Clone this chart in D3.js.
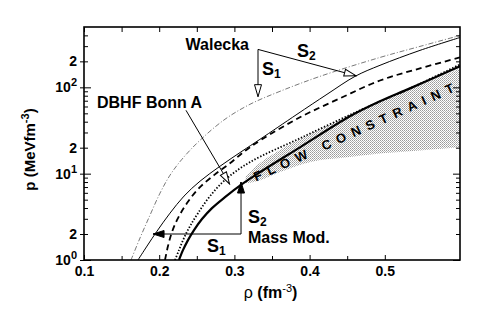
<!DOCTYPE html>
<html>
<head>
<meta charset="utf-8">
<script src="https://cdn.jsdelivr.net/npm/d3@7"></script>
<style>
  body { margin: 0; background: #fff; }
  text { font-family: "Liberation Sans", Arial, Helvetica, sans-serif; }
</style>
</head>
<body>
<div id="chart"></div>
<script>
// density rho (fm^-3) and pressure p (MeV fm^-3)
var rhoWaleckaS1 = [0.1625, 0.1745, 0.1878, 0.2011, 0.2144, 0.2303, 0.2543, 0.2875, 0.3207, 0.3606, 0.4138, 0.4936, 0.5468, 0.6];
var pWaleckaS1   = [1.0, 1.8, 3.31, 5.95, 9.61, 14.7, 24.4, 42.7, 63.6, 89.9, 134, 222, 298, 399];

var rhoWaleckaS2 = [0.1718, 0.1838, 0.1971, 0.2144, 0.233, 0.2543, 0.2809, 0.3101, 0.334, 0.3832, 0.4231, 0.4604, 0.4936, 0.5468, 0.6];
var pWaleckaS2   = [1.0, 1.45, 2.16, 3.49, 5.5, 8.19, 12.2, 18.2, 25.0, 48.7, 83.0, 134, 180, 268, 378];

var rhoBonnA = [0.2077, 0.2117, 0.217, 0.225, 0.237, 0.2529, 0.2729, 0.2941, 0.3154, 0.3367, 0.3872, 0.4404, 0.4936, 0.5468, 0.6];
var pBonnA   = [1.0, 1.45, 2.11, 3.06, 4.56, 6.8, 9.61, 13.2, 18.7, 25.0, 45.0, 74.6, 120, 166, 222];

var rhoMassS1 = [0.221, 0.2263, 0.233, 0.241, 0.2516, 0.2676, 0.2888, 0.3207, 0.3872, 0.467, 0.5335, 0.6];
var pMassS1   = [1.0, 1.3, 1.8, 2.47, 3.49, 5.5, 8.64, 13.6, 25.7, 54.2, 97.3, 184];

var rhoMassS2 = [0.2263, 0.2316, 0.2383, 0.2463, 0.2569, 0.2702, 0.2875, 0.3101, 0.334, 0.3872, 0.4537, 0.4936, 0.5335, 0.6];
var pMassS2   = [1.0, 1.3, 1.7, 2.22, 2.98, 3.99, 5.35, 7.56, 10.4, 20.2, 46.2, 68.9, 97.3, 175];

var rhoFlow   = [0.315, 0.33, 0.36, 0.4, 0.45, 0.5, 0.55, 0.6];
var pFlowHigh = [9.35, 12.5, 18.7, 28.6, 46.2, 72.7, 108, 166];
var pFlowLow  = [7.77, 8.19, 10.4, 13.6, 15.5, 17.3, 18.7, 20.2];

var xMajor = [0.1, 0.2, 0.3, 0.4, 0.5];
var xMinor = [0.15, 0.25, 0.35, 0.45];
var yLabelled = [1, 2, 10, 20, 100, 200];
var yDecades = [1, 10, 100];
var yMinor = [2, 3, 4, 5, 6, 7, 8, 9, 20, 30, 40, 50, 60, 70, 80, 90, 200, 300, 400];

var w = 496, h = 327;
var plotL = 84, plotR = 460, plotT = 27, plotB = 260;

var svg = d3.select("#chart").append("svg")
  .attr("width", w)
  .attr("height", h);

var x = d3.scaleLinear().domain([0.1, 0.6]).range([plotL, plotR]);
var y = d3.scaleLog().domain([1, 500]).range([plotB, plotT]);

var defs = svg.append("defs");

// stipple for the flow band
var pat = defs.append("pattern")
  .attr("id", "stipple")
  .attr("width", 2).attr("height", 2)
  .attr("patternUnits", "userSpaceOnUse");
pat.append("rect").attr("x", 0).attr("y", 0).attr("width", 1).attr("height", 1).attr("fill", "#9a9a9a");
pat.append("rect").attr("x", 1).attr("y", 1).attr("width", 1).attr("height", 1).attr("fill", "#b4b4b4");

var addMarker = function(id, fill, len, wid) {
  defs.append("marker")
    .attr("id", id)
    .attr("viewBox", (-len - 1) + " " + (-wid / 2 - 1) + " " + (len + 2) + " " + (wid + 2))
    .attr("refX", 0).attr("refY", 0)
    .attr("markerWidth", len + 2).attr("markerHeight", wid + 2)
    .attr("markerUnits", "userSpaceOnUse")
    .attr("orient", "auto")
    .append("path")
    .attr("d", "M0,0L" + (-len) + "," + (-wid / 2) + "L" + (-len) + "," + (wid / 2) + "Z")
    .attr("fill", fill)
    .attr("stroke", "#000")
    .attr("stroke-width", 1);
};
addMarker("hollow", "#fff", 12, 7);
addMarker("filled", "#000", 11, 7);

svg.append("clipPath").attr("id", "plotclip")
  .append("rect")
  .attr("x", plotL).attr("y", plotT)
  .attr("width", plotR - plotL).attr("height", plotB - plotT);

var plot = svg.append("g").attr("clip-path", "url(#plotclip)");

// flow constraint band
var band = d3.area()
  .x(function(d) { return x(d[0]); })
  .y0(function(d) { return y(d[2]); })
  .y1(function(d) { return y(d[1]); })
  .curve(d3.curveMonotoneX);

plot.append("path")
  .datum(rhoFlow.map(function(r, i) { return [r, pFlowHigh[i], pFlowLow[i]]; }))
  .attr("d", band)
  .attr("fill", "url(#stipple)");

var line = d3.line()
  .x(function(d) { return x(d[0]); })
  .y(function(d) { return y(d[1]); })
  .curve(d3.curveCatmullRom.alpha(0.5));

var zip = function(a, b) { return a.map(function(v, i) { return [v, b[i]]; }); };

var series = [
  { rho: rhoWaleckaS1, p: pWaleckaS1, stroke: "#555", width: 0.8, dash: "5,2,1,2" },
  { rho: rhoWaleckaS2, p: pWaleckaS2, stroke: "#000", width: 1, dash: null },
  { rho: rhoBonnA, p: pBonnA, stroke: "#000", width: 1.8, dash: "6,4" },
  { rho: rhoMassS1, p: pMassS1, stroke: "#000", width: 1.8, dash: "1.4,1.8" },
  { rho: rhoMassS2, p: pMassS2, stroke: "#000", width: 2.2, dash: null }
];

plot.selectAll("path.curve")
  .data(series)
  .enter()
  .append("path")
  .attr("class", "curve")
  .attr("d", function(d) { return line(zip(d.rho, d.p)); })
  .attr("fill", "none")
  .attr("stroke", function(d) { return d.stroke; })
  .attr("stroke-width", function(d) { return d.width; })
  .attr("stroke-dasharray", function(d) { return d.dash; });

// flow constraint label along the band
var f0 = [x(0.3287), y(8.1)], f1 = [x(0.5934), y(90)];
var ang = Math.atan2(f1[1] - f0[1], f1[0] - f0[0]) * 180 / Math.PI;
var flen = Math.hypot(f1[0] - f0[0], f1[1] - f0[1]);
svg.append("text")
  .attr("transform", "translate(" + f0[0] + "," + f0[1] + ") rotate(" + ang + ")")
  .attr("textLength", flen)
  .attr("lengthAdjust", "spacing")
  .attr("font-size", "13px")
  .attr("font-weight", "bold")
  .text("FLOW CONSTRAINT");

// axes
svg.append("g").attr("transform", "translate(0," + plotB + ")")
  .call(d3.axisBottom(x).tickValues(xMajor).tickSize(-5).tickPadding(6).tickFormat(d3.format(".1f")));
svg.append("g").attr("transform", "translate(0," + plotB + ")")
  .call(d3.axisBottom(x).tickValues(xMinor).tickSize(-4).tickFormat(""));
svg.append("g").attr("transform", "translate(0," + plotT + ")")
  .call(d3.axisTop(x).tickValues(xMajor.concat(xMinor)).tickSize(-5).tickFormat(""));

var yAxis = svg.append("g").attr("transform", "translate(" + plotL + ",0)")
  .call(d3.axisLeft(y).tickValues(yLabelled).tickSize(4).tickPadding(3).tickFormat(""));
svg.append("g").attr("transform", "translate(" + plotL + ",0)")
  .call(d3.axisLeft(y).tickValues(yDecades).tickSize(-7).tickFormat(""));
svg.append("g").attr("transform", "translate(" + plotL + ",0)")
  .call(d3.axisLeft(y).tickValues(yMinor).tickSize(-4).tickFormat(""));
svg.append("g").attr("transform", "translate(" + plotR + ",0)")
  .call(d3.axisRight(y).tickValues(yDecades).tickSize(-7).tickFormat(""));
svg.append("g").attr("transform", "translate(" + plotR + ",0)")
  .call(d3.axisRight(y).tickValues(yMinor).tickSize(-4).tickFormat(""));

svg.selectAll(".domain").remove();
svg.selectAll(".tick line").attr("stroke", "#000").attr("stroke-width", 1);
svg.selectAll(".tick text").attr("fill", "#000")
  .attr("font-family", "'Liberation Sans', Arial, sans-serif")
  .attr("font-weight", "bold")
  .attr("font-size", "14px");

yAxis.selectAll(".tick text").each(function(d) {
  var t = d3.select(this);
  var e = Math.round(Math.log10(d));
  if (Math.abs(d - Math.pow(10, e)) < 1e-9) {
    t.append("tspan").text("10");
    t.append("tspan").attr("dy", "-6").attr("font-size", "11px").text(e);
  } else {
    t.text("2");
  }
});

svg.append("rect")
  .attr("x", plotL).attr("y", plotT)
  .attr("width", plotR - plotL).attr("height", plotB - plotT)
  .attr("fill", "none")
  .attr("stroke", "#000")
  .attr("stroke-width", 1.6);

// axis titles
var xt = svg.append("text")
  .attr("x", x(0.3125)).attr("y", 298)
  .attr("font-size", "16px")
  .attr("font-weight", "bold");
xt.append("tspan").attr("font-weight", "normal").text("ρ ");
xt.append("tspan").text("(fm");
xt.append("tspan").attr("dy", "-6").attr("font-size", "11px").attr("font-weight", "normal").text("-3");
xt.append("tspan").attr("dy", "6").text(")");

var yt = svg.append("text")
  .attr("transform", "translate(35," + ((plotT + plotB) / 2 + 6) + ") rotate(-90)")
  .attr("text-anchor", "middle")
  .attr("font-size", "15px")
  .attr("font-weight", "bold");
yt.append("tspan").text("p (MeVfm");
yt.append("tspan").attr("dy", "-6").attr("font-size", "11px").text("-3");
yt.append("tspan").attr("dy", "6").text(")");

// annotations
var ann = svg.append("g");
var seg = function(a, b, marker) {
  ann.append("line")
    .attr("x1", x(a[0])).attr("y1", y(a[1]))
    .attr("x2", x(b[0])).attr("y2", y(b[1]))
    .attr("stroke", "#000").attr("stroke-width", 1)
    .attr("marker-end", marker ? "url(#" + marker + ")" : null);
};
var label = function(rho, p, size, anchor) {
  return ann.append("text")
    .attr("x", x(rho)).attr("y", y(p))
    .attr("font-size", size + "px")
    .attr("font-weight", "bold")
    .attr("text-anchor", anchor || "start");
};
var sub = function(t, main, s) {
  t.append("tspan").text(main);
  t.append("tspan").attr("dy", "3").attr("font-size", "12px").text(s);
};

// Walecka
var walCorner = [0.3314, 275];
seg(walCorner, [0.3314, 78], "hollow");
seg(walCorner, [0.462, 136], "hollow");
label(0.3194, 268, 16, "end").text("Walecka");
sub(label(0.3367, 138, 18), "S", "1");
sub(label(0.3832, 222, 18), "S", "2");

// DBHF Bonn A
label(0.1173, 57.2, 16).text("DBHF Bonn A");
seg([0.2356, 54.2], [0.2935, 7.6], "hollow");

// Mass Mod.
var massCorner = [0.3088, 2.0];
seg(massCorner, [0.1918, 2.0], "filled");
seg(massCorner, [0.3088, 8.0], "filled");
sub(label(0.2636, 1.24, 18), "S", "1");
sub(label(0.318, 2.68, 18), "S", "2");
label(0.318, 1.57, 16).text("Mass Mod.");
</script>
</body>
</html>
